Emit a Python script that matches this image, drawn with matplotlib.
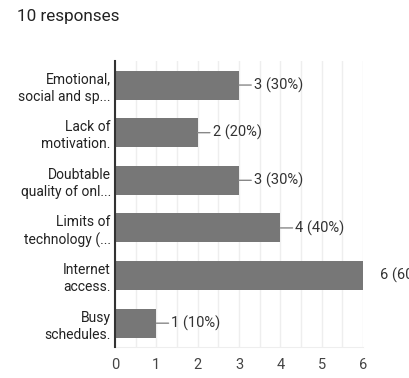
import matplotlib
matplotlib.use('Agg')
from matplotlib import pyplot as plt
from matplotlib.ticker import MultipleLocator

categories = ['Emotional,\nsocial and sp...', 'Lack of\nmotivation.', 'Doubtable\nquality of onl...',
              'Limits of\ntechnology (...', 'Internet\naccess.', 'Busy\nschedules.']
counts = [3, 2, 3, 4, 6, 1]
percents = [30, 20, 30, 40, 60, 10]
title = '10 responses'

plt.rcParams['font.family'] = ['Roboto', 'DejaVu Sans']

fig = plt.figure(figsize=(4.09, 3.78), dpi=100)
ax = fig.add_axes([0.2812, 0.082, 0.6064, 0.756])

y = list(range(len(categories)))
ax.barh(y, counts, height=0.61, color='#777777', zorder=3)

ax.set_ylim(len(categories) - 0.5, -0.5)
ax.set_xlim(0, 6)
ax.set_yticks(y)
ax.set_yticklabels(categories, fontsize=10, color='#222222', linespacing=1.3)
ax.xaxis.set_major_locator(MultipleLocator(1))
ax.xaxis.set_minor_locator(MultipleLocator(0.5))
ax.tick_params(axis='both', length=0)
ax.tick_params(axis='x', which='minor', length=0)
ax.tick_params(axis='x', labelsize=10.5, labelcolor='#444444', pad=8)
ax.tick_params(axis='y', pad=3)
ax.grid(axis='x', which='both', color='#eeeeee', lw=1, zorder=0)

for s in ['top', 'right']:
    ax.spines[s].set_visible(False)
ax.spines['left'].set_color('#333333')
ax.spines['left'].set_linewidth(1.5)
ax.spines['left'].set_zorder(4)
ax.spines['bottom'].set_color('#eeeeee')

for i, (c, p) in enumerate(zip(counts, percents)):
    label = f'{c} ({p}%)'
    if c == max(counts):
        # label runs off the right edge, as in the source screenshot
        ax.annotate(label, xy=(c, i), xytext=(17, 0), textcoords='offset pixels',
                    ha='left', va='center', fontsize=10.5, color='#333333',
                    annotation_clip=False)
    else:
        ax.annotate(label, xy=(c, i), xytext=(15, 0), textcoords='offset pixels',
                    ha='left', va='center', fontsize=10.5, color='#333333',
                    arrowprops=dict(arrowstyle='-', color='#888888', lw=1,
                                    shrinkA=0, shrinkB=0))

fig.text(17 / 409, 1 - 16 / 378, title, fontsize=12.3, color='#222222',
         ha='left', va='center')

fig.savefig('out.png', dpi=100)
